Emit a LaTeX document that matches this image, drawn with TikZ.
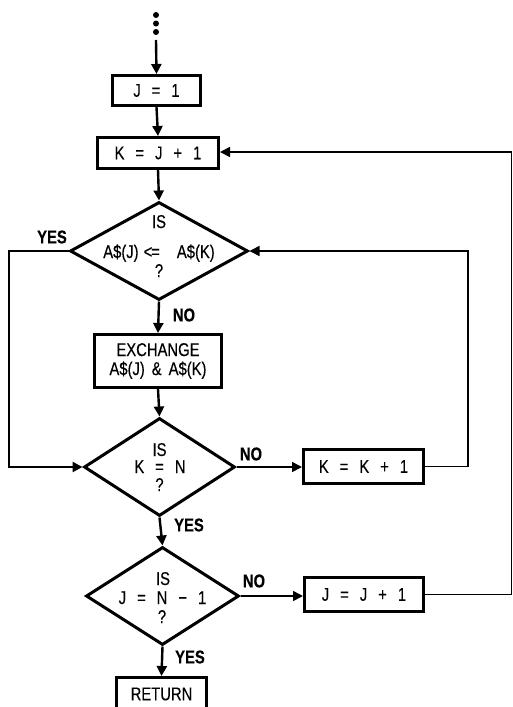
\documentclass[tikz,border=0pt]{standalone}
\usepackage{fontspec}
\setmainfont{Liberation Sans}[FakeStretch=0.8,FakeBold=0.3]
\usetikzlibrary{shapes.geometric,arrows.meta}
\newcommand\gs{\hspace{11pt}}
\begin{document}
\begin{tikzpicture}[x=1pt,y=-1pt,
  txt/.style={font=\fontsize{18.5}{22}\selectfont, inner sep=0pt},
  lab/.style={font=\fontsize{18.5}{22}\selectfont\bfseries, inner sep=0pt},
  box/.style={draw, line width=3pt, inner sep=0pt, align=center, font=\fontsize{18.5}{22}\selectfont},
  dia/.style={draw, diamond, line width=3pt, inner sep=0pt, minimum width=178pt, minimum height=98pt},
  dotn/.style={circle, fill, inner sep=0pt, minimum size=6pt},
  flow/.style={line width=2.4pt, -{Triangle[length=10pt,width=10pt]}},
  loopl/.style={line width=1.6pt, -{Triangle[length=10pt,width=10pt]}},
]
\clip (0,0) rectangle (513,707);
% entry dots
\node[dotn] (dt1) at (156,15) {};
\node[dotn] (dt2) at (156,23.5) {};
\node[dotn] (dt3) at (156,32) {};
\coordinate (top) at (156,40);
% boxes and decisions
\node[box, minimum width=88pt, minimum height=30pt] (j1) at (156.5,90.5) {J\gs=\gs1};
\node[box, minimum width=121pt, minimum height=31pt] (k1) at (158,153) {K\gs=\gs J\gs+\gs1};
\node[dia] (d1) at (159,251) {};
\node[txt, anchor=base] (d1a) at (159,228) {IS};
\node[txt, anchor=base] (d1b) at (159,258) {A\$(J)\hspace{5pt}<\hspace{-1pt}=\hspace{17pt}A\$(K)};
\node[txt, anchor=base] (d1c) at (159,277) {?};
\node[box, minimum width=127pt, minimum height=53pt] (ex) at (158,361) {EXCHANGE\\[-3pt]A\$(J)\hspace{7pt}\&\hspace{7pt}A\$(K)};
\node[dia, minimum width=151pt] (d2) at (159.5,467) {};
\node[txt, anchor=base] (d2a) at (159.5,456) {IS};
\node[txt, anchor=base] (d2b) at (160,473) {K\gs=\gs N};
\node[txt, anchor=base] (d2c) at (159.5,491) {?};
\node[box, minimum width=120pt, minimum height=34pt] (kk) at (363.5,466.5) {K\gs=\gs K\gs+\gs1};
\node[dia, minimum width=153pt] (d3) at (162.5,596) {};
\node[txt, anchor=base] (d3a) at (163,585) {IS};
\node[txt, anchor=base] (d3b) at (162.5,604) {J\gs=\gs N\gs−\gs1};
\node[txt, anchor=base] (d3c) at (162,623) {?};
\node[box, minimum width=119pt, minimum height=34pt] (jj) at (364,594.5) {J\gs=\gs J\gs+\gs1};
\node[box, minimum width=90pt, minimum height=33pt, anchor=north] (ret) at (161.5,676) {RETURN};
% labels
\node[lab] (yes1) at (52,237) {YES};
\node[lab] (no1) at (184,315) {NO};
\node[lab] (no2) at (251,454) {NO};
\node[lab] (yes2) at (189,525) {YES};
\node[lab] (no3) at (254,581) {NO};
\node[lab] (yes3) at (190,657) {YES};
% corner coordinates
\coordinate (yl1) at (9,251);
\coordinate (yl2) at (9,467);
\coordinate (r1a) at (468,466.5);
\coordinate (r1b) at (468,251);
\coordinate (r2a) at (511.5,594.5);
\coordinate (r2b) at (511.5,152);
% connectors
\draw[flow] (top) -- (j1.north);
\draw[flow] (j1.south) -- (k1.north);
\draw[flow] (k1.south) -- (d1.north);
\draw[flow] (d1.south) -- (ex.north);
\draw[flow] (ex.south) -- (d2.north);
\draw[flow] (d1.west) -- (yl1) -- (yl2) -- (d2.west);
\draw[loopl] (d2.east) -- (d2.east -| kk.west);
\draw[loopl] (kk.east) -- (r1a) -- (r1b) -- (d1.east);
\draw[flow] (d2.south) -- (d3.north);
\draw[loopl] (d3.east) -- (d3.east -| jj.west);
\draw[loopl] (jj.east) -- (r2a) -- (r2b) -- (r2b -| k1.east);
\draw[flow] (d3.south) -- (ret.north);
\end{tikzpicture}
\end{document}
